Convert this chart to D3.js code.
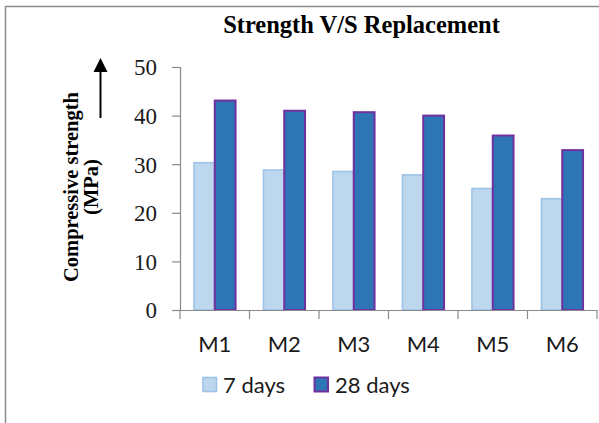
<!DOCTYPE html>
<html>
<head>
<meta charset="utf-8">
<script src="https://cdn.jsdelivr.net/npm/d3@7"></script>
<style>
  html, body { margin: 0; padding: 0; background: #ffffff; }
  svg { display: block; }
</style>
</head>
<body>
<svg id="chart" width="599" height="423"></svg>
<script>
const categories = ["M1", "M2", "M3", "M4", "M5", "M6"];
const seriesNames = ["7 days", "28 days"];
const days7 = [30.3, 28.8, 28.5, 27.8, 25.0, 22.9];
const days28 = [43.1, 41.0, 40.7, 40.0, 35.9, 32.9];
const yTicks = [0, 10, 20, 30, 40, 50];
const titleText = "Strength V/S Replacement";
const yLabelLines = ["Compressive strength", "(MPa)"];

const fills = ["#BDD7EE", "#2E75B6"];
const strokes = ["#9DC3E6", "#7030A0"];

const svg = d3.select("#chart");
const W = 599, H = 423;
const plot = { left: 180, right: 597, top: 67, bottom: 310 };

// frame (top & left edges visible)
svg.append("path")
  .attr("d", `M5.5,${H} V6.5 H${W}`)
  .attr("fill", "none").attr("stroke", "#8c8c8c").attr("stroke-width", 1.5);

const x = d3.scaleBand().domain(categories).range([plot.left, plot.right]).padding(0);
const x1 = d3.scaleBand().domain(seriesNames).range([0, x.bandwidth()]).paddingInner(0).paddingOuter(0.67);
const y = d3.scaleLinear().domain([0, 50]).range([plot.bottom, plot.top]);

const rows = categories.map((c, i) => ({ cat: c, vals: [days7[i], days28[i]] }));

// bars
const g = svg.append("g");
rows.forEach(r => {
  r.vals.forEach((v, j) => {
    g.append("rect")
      .attr("x", x(r.cat) + x1(seriesNames[j]))
      .attr("y", y(v))
      .attr("width", x1.bandwidth())
      .attr("height", y(0) - y(v))
      .attr("fill", fills[j])
      .attr("stroke", strokes[j])
      .attr("stroke-width", j === 1 ? 2 : 1.6);
  });
});

// y axis
const yAxis = svg.append("g")
  .attr("transform", `translate(${plot.left},0)`)
  .call(d3.axisLeft(y).tickValues(yTicks).tickSize(8).tickPadding(15).tickFormat(d3.format("d")));
yAxis.select(".domain").attr("stroke", "#8a8a8a").attr("stroke-width", 1.2);
yAxis.selectAll(".tick line").attr("stroke", "#8a8a8a").attr("stroke-width", 1.2);
yAxis.selectAll(".tick text")
  .attr("font-family", "'Liberation Serif', 'Times New Roman', serif")
  .attr("font-size", 23).attr("fill", "#1a1a1a").attr("dy", "0.34em");

// x axis
const xAxis = svg.append("g")
  .attr("transform", `translate(0,${plot.bottom})`)
  .call(d3.axisBottom(x).tickSize(0).tickPadding(26).tickSizeOuter(0));
xAxis.select(".domain").attr("stroke", "#8a8a8a").attr("stroke-width", 1.2);
xAxis.selectAll(".tick text")
  .attr("font-family", "Lato, 'Liberation Sans', sans-serif")
  .attr("font-size", 22).attr("fill", "#1a1a1a");
// boundary tick marks
const bounds = categories.map(c => x(c)).concat([x.range()[1]]);
xAxis.selectAll("line.bt").data(bounds).enter().append("line")
  .attr("class", "bt")
  .attr("x1", d => d).attr("x2", d => d)
  .attr("y1", 0).attr("y2", 9)
  .attr("stroke", "#8a8a8a").attr("stroke-width", 1.2);

// title
svg.append("text")
  .attr("x", 361.5).attr("y", 33)
  .attr("text-anchor", "middle")
  .attr("font-family", "'Liberation Serif', 'Times New Roman', serif")
  .attr("font-weight", "bold").attr("font-size", 24.5).attr("fill", "#000")
  .text(titleText);

// y label
const yl = svg.append("text")
  .attr("transform", "translate(78,187) rotate(-90)")
  .attr("text-anchor", "middle")
  .attr("font-family", "'Liberation Serif', 'Times New Roman', serif")
  .attr("font-weight", "bold").attr("font-size", 20.5).attr("fill", "#000");
yLabelLines.forEach((t, i) => {
  yl.append("tspan").attr("x", 0).attr("y", i * 20).text(t);
});

// arrow
svg.append("line")
  .attr("x1", 100.5).attr("x2", 100.5).attr("y1", 118).attr("y2", 71)
  .attr("stroke", "#000").attr("stroke-width", 2);
svg.append("path")
  .attr("d", "M100.5,58 L107.5,72 L93.5,72 Z").attr("fill", "#000");

// legend
const legendPos = [{ sx: 203, tx: 223 }, { sx: 314.5, tx: 335 }];
const lg = svg.append("g");
seriesNames.forEach((s, j) => {
  lg.append("rect")
    .attr("x", legendPos[j].sx).attr("y", 377.5)
    .attr("width", 13.5).attr("height", 14)
    .attr("fill", fills[j]).attr("stroke", strokes[j]).attr("stroke-width", j === 1 ? 2 : 1.6);
  lg.append("text")
    .attr("x", legendPos[j].tx).attr("y", 392.5)
    .attr("font-family", "Lato, 'Liberation Sans', sans-serif")
    .attr("font-size", 22).attr("fill", "#1a1a1a")
    .text(s);
});
</script>
</body>
</html>
